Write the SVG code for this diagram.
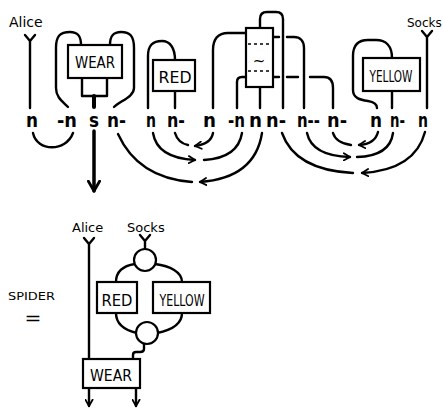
<svg xmlns="http://www.w3.org/2000/svg" width="443" height="412" viewBox="0 0 443 412">
<defs>
<style>
.w{fill:none;stroke:#000;stroke-width:2.4;stroke-linecap:round;stroke-linejoin:round}
.box{fill:#fff;stroke:#000;stroke-width:2.2}
.dash{fill:none;stroke:#000;stroke-width:1.4;stroke-dasharray:3 3}
.t{font-family:"DejaVu Sans","Liberation Sans",sans-serif;fill:#000}
.lbl{font-family:"DejaVu Sans","Liberation Sans",sans-serif;font-weight:bold;font-size:20px;fill:#000}
.bx{font-family:"DejaVu Sans","Liberation Sans",sans-serif;font-size:15px;fill:#000;text-anchor:middle}
.a{marker-end:url(#ah)}
</style>
<marker id="ah" viewBox="0 0 10 10" refX="8" refY="5" markerWidth="9" markerHeight="9" markerUnits="userSpaceOnUse" orient="auto">
<path d="M1,1 L8,5 L1,9" fill="none" stroke="#000" stroke-width="2" stroke-linecap="round" stroke-linejoin="round"/>
</marker>
<marker id="ahb" viewBox="0 0 10 10" refX="8" refY="5" markerWidth="14" markerHeight="14" markerUnits="userSpaceOnUse" orient="auto">
<path d="M1,1 L8,5 L1,9" fill="none" stroke="#000" stroke-width="2" stroke-linecap="round" stroke-linejoin="round"/>
</marker>
</defs>
<rect width="443" height="412" fill="#fff"/>

<g id="connectors">
<path class="w" d="M25,35 L30,41 L35,35 M30,41 V108"/>
<path class="w" d="M81,45 C81,36 78,32 70,32 C60,32 56,36 56,48 V88 C56,97 62,101 68,107"/>
<path class="w" d="M110,45 C110,36 113,32 121,32 C130,32 134,36 134,48 V88 C134,97 120,101 114,107"/>
<path class="w" d="M82,78 V96 H107 V78"/>
<path class="w" d="M94,96 V107" style="stroke-width:4"/>
<path class="w" d="M94,131 V191" style="stroke-width:3.5" marker-end="url(#ahb)"/>
<path class="w" d="M33,133 C37,152 66,152 73,133"/>
<path class="w" d="M175,60 C175,48 170,41 162,41 C152,41 148,46 148,56 V108"/>
<path class="w" d="M175,91 V108"/>
<path class="w" d="M213,108 V50 C213,39 218,33 228,33 H246"/>
<path class="w" d="M246,77 H242 Q237,77 237,82 V108"/>
<path class="w" d="M260,87 V108"/>
<path class="w" d="M260,28 V19 Q260,12 267,12 H276 Q283,12 283,19 V108"/>
<path class="w" d="M273,37 H279 M287,37 H294 C300,37 304,41 304,48 V108"/>
<path class="w" d="M273,77 H279 M287,77 H298 M310,77 H324 C330,77 333,81 333,88 V108"/>
<path class="w" d="M392,58 C392,46 386,40 376,40 H368 C358,40 353,46 353,56 V90 C353,98 360,100 368,101 C374,102 377,104 377,108"/>
<path class="w" d="M392,91 V108"/>
<path class="w" d="M422,31 L427,37 L432,31 M427,37 V108"/>
<path class="w" d="M175,133 Q178,143 188,145"/>
<path class="w a" d="M213,133 Q211,144 195,146"/>
<path class="w a" d="M153,133 Q157,158 195,160"/>
<path class="w" d="M242,133 Q238,158 204,160"/>
<path class="w" d="M118,134 Q138,178 192,182"/>
<path class="w a" d="M262,133 Q255,178 200,182"/>
<path class="w" d="M333,133 Q336,143 351,145"/>
<path class="w a" d="M378,132 Q375,144 359,145"/>
<path class="w a" d="M307,133 Q312,156 350,157"/>
<path class="w" d="M393,133 Q390,156 357,157"/>
<path class="w" d="M282,133 Q295,170 353,173"/>
<path class="w a" d="M425,132 Q415,170 362,173"/>
<path class="w" d="M84,238 L89,244 L94,238 M89,244 V359"/>
<path class="w" d="M140,235 L145,241 L150,235 M145,241 V249"/>
<path class="w" d="M135,264 C122,266 116,272 116,282"/>
<path class="w" d="M155,264 C170,266 182,272 182,282"/>
<path class="w" d="M116,313 C116,324 124,330 137,333"/>
<path class="w" d="M182,313 C182,324 172,330 157,333"/>
<path class="w" d="M144,344 V349 Q144,352 140,352 H136 Q133,352 133,355 V359"/>
<path class="w a" d="M89,388 V406"/>
<path class="w a" d="M136,388 V406"/>
</g>

<g id="alice-top"><text class="t" x="9" y="27" font-size="14">Alice</text></g>
<g id="socks-top"><text class="t" x="407" y="27" font-size="12">Socks</text></g>

<g id="wear-top">
<rect class="box" x="68" y="45" width="54" height="33"/>
<text class="bx" x="95" y="68" textLength="40" lengthAdjust="spacingAndGlyphs">WEAR</text>
</g>
<g id="red-top">
<rect class="box" x="153" y="60" width="42" height="31"/>
<text class="bx" x="175" y="83" font-size="17" textLength="33" lengthAdjust="spacingAndGlyphs">RED</text>
</g>
<g id="tilde-box">
<rect class="box" x="246" y="28" width="27" height="59"/>
<path class="dash" d="M248,44 H271 M248,71 H271"/>
<text class="bx" x="259" y="66" font-size="18">~</text>
</g>
<g id="yellow-top">
<rect class="box" x="363" y="58" width="57" height="33"/>
<text class="bx" x="391" y="82" font-size="17" textLength="43" lengthAdjust="spacingAndGlyphs">YELLOW</text>
</g>

<g id="labels">
<text class="lbl" x="26" y="127" textLength="12" lengthAdjust="spacingAndGlyphs">n</text>
<text class="lbl" x="57" y="127" textLength="20" lengthAdjust="spacingAndGlyphs">-n</text>
<text class="lbl" x="89" y="127" textLength="10" lengthAdjust="spacingAndGlyphs">s</text>
<text class="lbl" x="107" y="127" textLength="19" lengthAdjust="spacingAndGlyphs">n-</text>
<text class="lbl" x="146" y="127" textLength="10" lengthAdjust="spacingAndGlyphs">n</text>
<text class="lbl" x="167" y="127" textLength="18" lengthAdjust="spacingAndGlyphs">n-</text>
<text class="lbl" x="203" y="127" textLength="13" lengthAdjust="spacingAndGlyphs">n</text>
<text class="lbl" x="228" y="127" textLength="17" lengthAdjust="spacingAndGlyphs">-n</text>
<text class="lbl" x="249" y="127" textLength="13" lengthAdjust="spacingAndGlyphs">n</text>
<text class="lbl" x="266" y="127" textLength="20" lengthAdjust="spacingAndGlyphs">n-</text>
<text class="lbl" x="297" y="127" textLength="23" lengthAdjust="spacingAndGlyphs">n--</text>
<text class="lbl" x="327" y="127" textLength="20" lengthAdjust="spacingAndGlyphs">n-</text>
<text class="lbl" x="370" y="127" textLength="12" lengthAdjust="spacingAndGlyphs">n</text>
<text class="lbl" x="390" y="127" textLength="15" lengthAdjust="spacingAndGlyphs">n-</text>
<text class="lbl" x="418" y="127" textLength="10" lengthAdjust="spacingAndGlyphs">n</text>
</g>

<g id="spider-eq">
<text class="t" x="8" y="300" font-size="11" textLength="47" lengthAdjust="spacingAndGlyphs">SPIDER</text>
<text class="t" x="33" y="324" font-size="18" text-anchor="middle" textLength="17" lengthAdjust="spacingAndGlyphs">=</text>
</g>
<g id="alice-bottom"><text class="t" x="72" y="232" font-size="13">Alice</text></g>
<g id="socks-bottom"><text class="t" x="127" y="232" font-size="13">Socks</text></g>
<g id="spider-top"><circle cx="145" cy="260" r="11" class="box"/></g>
<g id="spider-bottom"><circle cx="147" cy="333" r="11" class="box"/></g>
<g id="red-bottom">
<rect class="box" x="97" y="282" width="40" height="31"/>
<text class="bx" x="117" y="306" font-size="16" textLength="31" lengthAdjust="spacingAndGlyphs">RED</text>
</g>
<g id="yellow-bottom">
<rect class="box" x="153" y="282" width="57" height="31"/>
<text class="bx" x="182" y="306" font-size="16" textLength="45" lengthAdjust="spacingAndGlyphs">YELLOW</text>
</g>
<g id="wear-bottom">
<rect class="box" x="83" y="359" width="57" height="29"/>
<text class="bx" x="111" y="381" font-size="15" textLength="42" lengthAdjust="spacingAndGlyphs">WEAR</text>
</g>
</svg>
